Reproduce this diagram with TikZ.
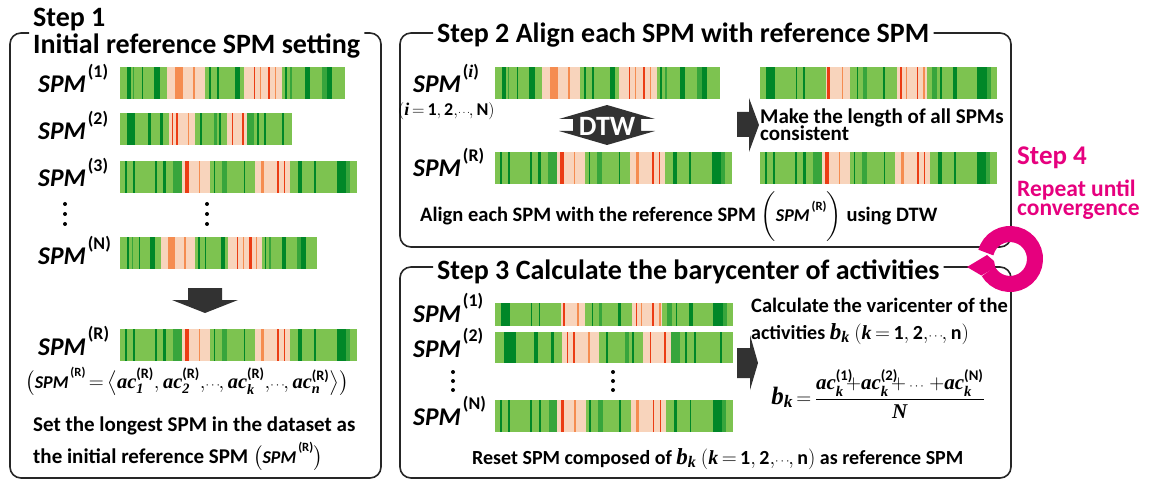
\documentclass[tikz,border=0pt]{standalone}
\usepackage{fontspec}
\setmainfont{Carlito}
\newfontfamily\timesf{Liberation Serif}
\usepackage{amsmath}
\usepackage{graphicx}
\usetikzlibrary{calc}
\definecolor{gbase}{RGB}{125,195,80}
\definecolor{gmid}{RGB}{55,165,60}
\definecolor{gdark}{RGB}{0,135,40}
\definecolor{peach}{RGB}{248,212,188}
\definecolor{orng}{RGB}{245,140,80}
\definecolor{redd}{RGB}{235,60,20}
\definecolor{arrowgray}{RGB}{50,50,50}
\definecolor{stepmag}{RGB}{230,0,126}

% variables in bold italic serif, SPM label with raised index
\newcommand{\tv}[1]{\text{\timesf\bfseries\itshape #1}}
\newcommand{\spm}[1]{{\itshape SPM}\kern2pt\raisebox{0.62em}{\scalebox{0.7}{(#1)}}}
\newcommand{\sdots}{\text{\scalebox{0.6}{$\cdots$}}}
\newcommand{\idx}[2]{$(\tv{#1}\,{=}\,\text{1},\text{2},\!\sdots\!,\text{#2})$}

% stripe patterns: start/end (percent of bar width)/colour
\newcommand{\patA}{3.3/4.7/gdark, 5.9/6.2/gmid, 9.6/10.1/gdark, 15.3/17.8/gdark, 21/37.8/peach, 24.4/27.9/orng, 32.6/33.3/orng, 39.7/40.3/gdark, 43/43.7/gdark, 51.1/53.3/gdark, 54.8/71.9/peach, 59.3/60/redd, 62.2/62.7/orng, 65.5/66.7/redd, 68.9/69.3/orng, 73.3/74/gdark, 75.6/76.3/gmid, 82.2/84.1/gdark, 89.6/91.9/gmid, 91.9/94/gdark}
\newcommand{\patB}{3.9/8.7/gdark, 16.5/17.9/gdark, 23.3/24.9/gdark, 28.2/43.7/peach, 30.1/30.7/redd, 32.6/33.4/redd, 39.2/40/orng, 46.6/47.6/gdark, 54.4/56.3/gmid, 57.3/58.3/gdark, 62.1/73.8/peach, 65/65.6/redd, 70.9/71.8/redd, 73.8/77.7/gmid, 79.6/80.6/gdark, 83.5/84.5/gdark, 94.2/95.1/gdark}
\newcommand{\patC}{2.1/2.8/gdark, 5.6/6.3/gdark, 14.8/15.5/gdark, 18.3/19.3/gdark, 22.5/26.1/gmid, 26.1/38/peach, 27.5/28.9/redd, 33.1/33.8/orng, 39.4/40.1/gdark, 43/45.1/gmid, 52.1/52.8/gdark, 57/71.8/peach, 59.2/60.6/orng, 66.2/66.9/redd, 69/69.7/redd, 75.1/76.5/gdark, 81.7/82.4/gdark, 91.5/95.1/gdark, 95.1/96.9/gmid}
\newcommand{\patD}{2.5/6.3/gdark, 15.2/15.7/gdark, 18.3/19/gdark, 27.8/37.9/peach, 28.4/29.5/redd, 34.4/35.1/orng, 40.7/41.2/gdark, 43.5/44.9/gmid, 51.7/52.7/gdark, 57.6/70.2/peach, 59/59.7/redd, 61.4/61.8/orng, 66/66.7/redd, 68.8/69.5/orng, 72.3/74.4/gmid, 75.8/76.5/gdark, 81.5/82.9/gdark, 91.6/95.5/gdark, 95.5/97.2/gmid}

% \spmbar[options]{name}{top left}{width}{pattern}
\newcommand{\spmbar}[5][]{%
  \node[spmbase, minimum width=#4pt, #1] (#2) at #3 {};
  \foreach \ps/\pe/\pc in #5
    \fill[\pc] ($(#2.south west)!\ps/100!(#2.south east)$) rectangle ($(#2.north west)!\pe/100!(#2.north east)$);
}

\begin{document}
\begin{tikzpicture}[x=1pt, y=-1pt, font=\bfseries,
  panel/.style={line width=1.6pt, draw=black!85, rounded corners=11pt},
  ttl/.style={anchor=base west, inner xsep=4pt, inner ysep=0pt, font=\fontsize{28}{28}\selectfont\bfseries},
  lbl/.style={anchor=base west, inner sep=0pt, font=\fontsize{25.5}{25.5}\selectfont\bfseries},
  txt/.style={anchor=base west, inner sep=0pt, font=\fontsize{21}{21}\selectfont\bfseries},
  frm/.style={anchor=base, inner sep=0pt, font=\fontsize{20.5}{20.5}\selectfont\bfseries},
  mag/.style={anchor=base west, inner sep=0pt, text=stepmag, font=\fontsize{23.5}{23.5}\selectfont\bfseries},
  blockarrow/.style={fill=arrowgray},
  spmbase/.style={rectangle, fill=gbase, inner sep=0pt, minimum height=32pt, anchor=north west}]
\useasboundingbox (0,0) rectangle (1154,481);

% ---- Step 1
\node[ttl] (t1a) at (29,27) {Step 1};
\node[ttl] (t1b) at (29,54) {Initial reference SPM setting};
\draw[panel] (t1b.west |- 0,33) -- (10,33) -- (10,478) -- (381,478) -- (381,33) -- (t1b.east |- 0,33);
\node[lbl] (l11) at (38,93)  {\spm{1}};
\node[lbl] (l12) at (38,140) {\spm{2}};
\node[lbl] (l13) at (38,187) {\spm{3}};
\node[lbl] (l1n) at (38,265) {\spm{N}};
\node[lbl] (l1r) at (38,355) {\spm{R}};
\spmbar{b11}{(120,67)}{225}{\patA}
\spmbar{b12}{(120,113)}{172}{\patB}
\spmbar{b13}{(120,161)}{237}{\patC}
\spmbar{b1n}{(120,237)}{197}{\patA}
\spmbar{b1r}{(120,329)}{237}{\patC}
\foreach \y in {204,214,224} {
  \fill (65,\y) circle[radius=2];
  \fill (207,\y) circle[radius=2];
}
\fill[blockarrow] (188,288) -- (222,288) -- (222,300) -- (238,300) -- (205,313) -- (172,300) -- (188,300) -- cycle;
\node[frm] (f1) at (187,388) {$\bigl(\text{\fontsize{18}{18}\selectfont\spm{R}}\,{=}\,\bigl\langle \tv{ac}^{\text{(R)}}_{\tv{1}},\tv{ac}^{\text{(R)}}_{\tv{2}},\!\sdots\!,\tv{ac}^{\text{(R)}}_{\tv{k}},\!\sdots\!,\tv{ac}^{\text{(R)}}_{\tv{n}}\bigr\rangle\bigr)$};
\node[txt] (s1a) at (33,431) {Set the longest SPM in the dataset as};
\node[txt] (s1b) at (33,463) {the initial reference SPM $\bigl(\text{\fontsize{18}{18}\selectfont\spm{R}}\bigr)$};

% ---- Step 2
\node[ttl] (t2) at (433,43) {Step 2 Align each SPM with reference SPM};
\draw[panel] (t2.west |- 0,33) -- (400,33) -- (400,247) -- (1011,247) -- (1011,33) -- (t2.east |- 0,33);
\node[lbl] (l2i) at (413,93) {\spm{{\timesf\itshape i}}};
\node[txt, font=\fontsize{18}{18}\selectfont\bfseries] (l2ir) at (398,116) {\idx{i}{N}};
\node[lbl] (l2r) at (413,177) {\spm{R}};
\spmbar{b2i}{(495,67)}{225}{\patA}
\spmbar{b2r}{(495,152)}{237}{\patC}
\fill[blockarrow] (607,105) -- (655,119) -- (641,119) -- (641,131) -- (655,131) -- (607,145) -- (559,131) -- (573,131) -- (573,119) -- (559,119) -- cycle;
\node[text=white, inner sep=0pt, font=\fontsize{28}{28}\selectfont\bfseries] (dtw) at (607,126) {DTW};
\fill[blockarrow] (737,112) -- (749,112) -- (749,98) -- (759,125) -- (749,152) -- (749,137) -- (737,137) -- cycle;
\spmbar{b2a}{(760,67)}{237}{\patD}
\spmbar{b2b}{(760,152)}{237}{\patC}
\node[txt] (m2a) at (760,124) {Make the length of all SPMs};
\node[txt] (m2b) at (760,141) {consistent};
\node[txt, font=\fontsize{20.5}{20.5}\selectfont\bfseries] (s2) at (420,222) {Align each SPM with the reference SPM $\biggl(\text{\fontsize{18}{18}\selectfont\spm{R}}\biggr)$ using DTW};

% ---- Step 3
\node[ttl] (t3) at (433,279) {Step 3 Calculate the barycenter of activities};
\draw[panel] (t3.west |- 0,267) -- (400,267) -- (400,478) -- (1011,478) -- (1011,267) -- (t3.east |- 0,267);
\node[lbl] (l31) at (413,322) {\spm{1}};
\node[lbl] (l32) at (413,357) {\spm{2}};
\node[lbl] (l3n) at (413,425) {\spm{N}};
\spmbar[minimum height=23pt]{b31}{(495,303)}{238}{\patD}
\spmbar[minimum height=31pt]{b32}{(495,332)}{238}{\patB}
\spmbar{b3n}{(495,400)}{238}{\patC}
\foreach \y in {372,381,390} {
  \fill (453,\y) circle[radius=2];
  \fill (613,\y) circle[radius=2];
}
\fill[blockarrow] (737,348) -- (750,348) -- (750,335) -- (758,363) -- (750,390) -- (750,378) -- (737,378) -- cycle;
\node[txt, font=\fontsize{20.5}{20.5}\selectfont\bfseries] (c3a) at (751,312) {Calculate the varicenter of the};
\node[txt, font=\fontsize{20}{20}\selectfont\bfseries] (c3b) at (751,339) {activities {\fontsize{23}{23}\selectfont$\tv{b}_{\tv{k}}$} \idx{k}{n}};
\node[inner sep=0pt, font=\fontsize{21}{21}\selectfont\bfseries] (f3) at (878,394) {{\fontsize{25}{25}\selectfont$\tv{b}_{\tv{k}}$}$\,{=}\,\dfrac{\tv{ac}^{\text{(1)}}_{\tv{k}}\!\!{+}\tv{ac}^{\text{(2)}}_{\tv{k}}\!\!{+}\,\sdots\,{+}\tv{ac}^{\text{(N)}}_{\tv{k}}}{\tv{N}}$};
\node[txt, font=\fontsize{20}{20}\selectfont\bfseries] (s3) at (472,464) {Reset SPM composed of {\fontsize{23}{23}\selectfont$\tv{b}_{\tv{k}}$} \idx{k}{n} as reference SPM};

% ---- Step 4
\node[mag, font=\fontsize{27}{27}\selectfont\bfseries] (t4) at (1017,165) {Step 4};
\node[mag] (r4a) at (1017,197) {Repeat until};
\node[mag] (r4b) at (1017,216) {convergence};
\draw[stepmag, line width=16pt] (1010,259) ++(195:25) arc[start angle=195, end angle=510, radius=25];
\fill[stepmag] (967,267) -- (987,255) -- (994,261) -- (995.3,267.5) -- (981.4,275.5) -- cycle;
\end{tikzpicture}
\end{document}
